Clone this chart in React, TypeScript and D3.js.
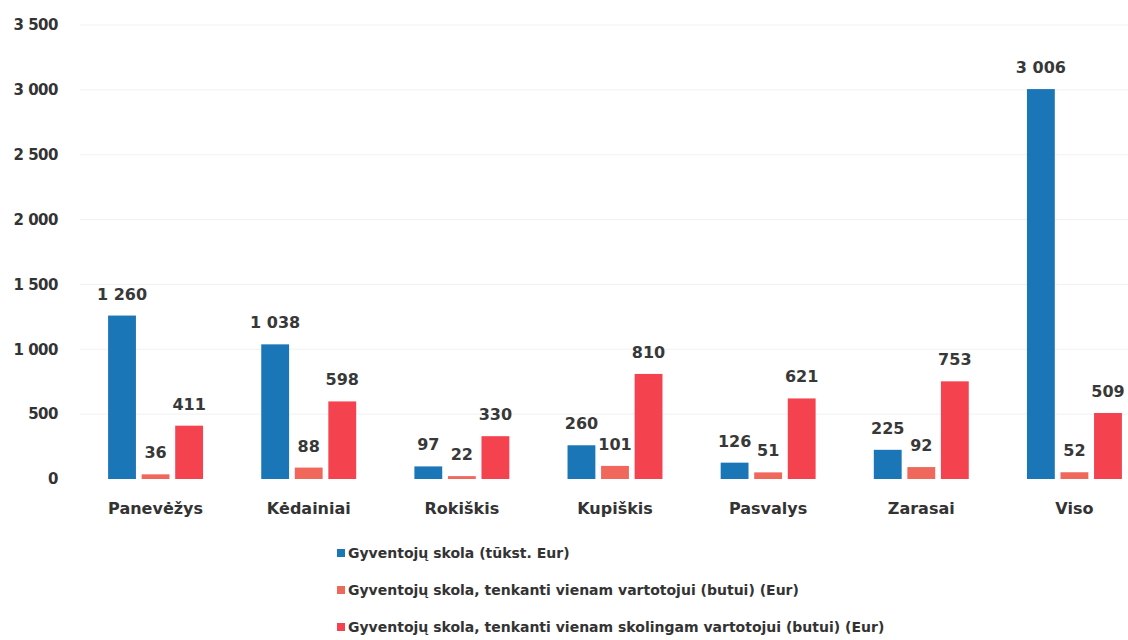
import React from "react";
import * as d3 from "d3";

const categories = ["Panevėžys", "Kėdainiai", "Rokiškis", "Kupiškis", "Pasvalys", "Zarasai", "Viso"];
const seriesNames = [
  "Gyventojų skola (tūkst. Eur)",
  "Gyventojų skola, tenkanti vienam vartotojui (butui) (Eur)",
  "Gyventojų skola, tenkanti vienam skolingam vartotojui (butui) (Eur)",
];
const debtTotal = [1260, 1038, 97, 260, 126, 225, 3006];
const debtPerConsumer = [36, 88, 22, 101, 51, 92, 52];
const debtPerDebtor = [411, 598, 330, 810, 621, 753, 509];
const yTicks = [0, 500, 1000, 1500, 2000, 2500, 3000, 3500];
const colors = ["#1b76b8", "#f0675c", "#f5424f"];

const W = 1128;
const H = 640;

const fmt = (v: number) => {
  const s = String(v);
  return s.length > 3 ? s.slice(0, s.length - 3) + "\u00a0" + s.slice(-3) : s;
};

export default function App() {
  const series = [debtTotal, debtPerConsumer, debtPerDebtor];
  const x = d3.scaleBand<string>().domain(categories).range([79, 1151]).paddingInner(0.38).paddingOuter(0.19);
  const sub = d3.scaleBand<number>().domain([0, 1, 2]).range([0, x.bandwidth()]).paddingInner(0.17);
  const y = d3.scaleLinear().domain([0, 3500]).range([479, 25]);
  const font = "'DejaVu Sans', sans-serif";

  return (
    <svg width={W} height={H} style={{ position: "absolute", left: 0, top: 0, background: "#fff" }}>
      <rect width={W} height={H} fill="#fff" />
      {yTicks.map((t) => (
        <g key={t}>
          {t > 0 && <line x1={80} x2={1128} y1={y(t)} y2={y(t)} stroke="#f1f1f1" strokeWidth={1} />}
          <text x={58} y={y(t)} dy="0.35em" textAnchor="end" fontFamily={font} fontWeight={700} fontSize={15} letterSpacing={-0.5} fill="#333">
            {fmt(t)}
          </text>
        </g>
      ))}
      {categories.map((c, i) => (
        <g key={c} transform={`translate(${x(c)},0)`}>
          {series.map((s, k) => (
            <g key={k}>
              <rect x={sub(k)} y={y(s[i])} width={sub.bandwidth()} height={y(0) - y(s[i])} fill={colors[k]} />
              <text
                x={(sub(k) as number) + sub.bandwidth() / 2}
                y={y(s[i]) - 16}
                textAnchor="middle"
                fontFamily={font}
                fontWeight={700}
                fontSize={16}
                fill="#383838"
              >
                {fmt(s[i])}
              </text>
            </g>
          ))}
          <text x={x.bandwidth() / 2} y={508} dy="0.35em" textAnchor="middle" fontFamily={font} fontWeight={700} fontSize={16} fill="#333">
            {c}
          </text>
        </g>
      ))}
      {seriesNames.map((n, k) => (
        <g key={n} transform={`translate(337,${553 + k * 37})`}>
          <rect x={0} y={-4} width={8} height={8} fill={colors[k]} />
          <text x={11} y={0} dy="0.35em" fontFamily={font} fontWeight={700} fontSize={14} fill="#333">
            {n}
          </text>
        </g>
      ))}
    </svg>
  );
}
